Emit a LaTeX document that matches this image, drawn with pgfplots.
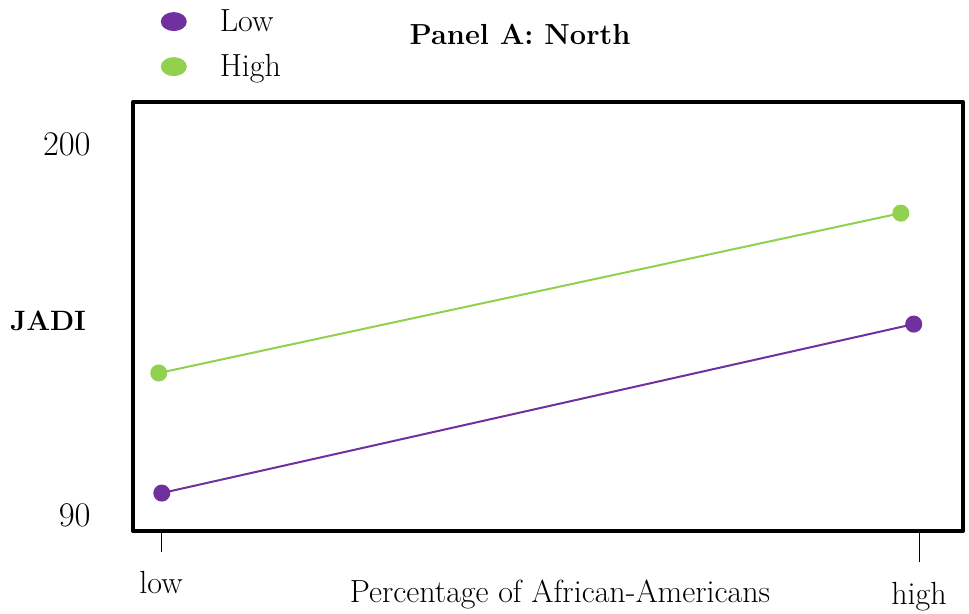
\documentclass[border=0pt]{standalone}
\usepackage{pgfplots}
\pgfplotsset{compat=1.18}
\definecolor{purp}{RGB}{112,48,160}
\definecolor{grn}{RGB}{146,208,80}
\newcommand{\tf}{\fontsize{16}{19}\selectfont}
\begin{document}
\begin{tikzpicture}
\path[use as bounding box] (-66.5pt,-41.5pt) rectangle (418pt,265.5pt);
\begin{axis}[
  scale only axis, width=415pt, height=214.5pt,
  xmin=0.963, xmax=2.058, ymin=85.26, ymax=212.45,
  axis line style={line width=2pt, line join=round},
  tick style={line width=0.5pt, black},
  tick align=outside,
  xtick pos=bottom, ytick pos=left,
  major tick length=10.5pt,
  xtick={1}, xticklabels={low},
  extra x ticks={2}, extra x tick labels={high},
  extra x tick style={major tick length=15.5pt},
  xticklabel style={anchor=base, inner sep=0pt, font=\tf, yshift=-21pt},
  ytick={90,200}, ytick style={draw=none},
  yticklabel style={anchor=east, inner sep=0pt, font=\tf, xshift=-10.5pt},
  xlabel={Percentage of African-Americans},
  xlabel style={at={(axis description cs:0.5145,-0.1678)}, anchor=base, font=\tf, inner sep=0pt},
  ylabel={JADI},
  ylabel style={at={(axis description cs:-0.1024,0.4895)}, rotate=-90, anchor=center, font=\fontsize{14}{17}\selectfont\bfseries, inner sep=0pt},
  title={Panel A: North},
  title style={at={(axis description cs:0.4663,1.1072)}, anchor=base, font=\fontsize{14.5}{17}\selectfont\bfseries, inner sep=0pt},
  legend image code/.code={\fill[#1,draw=none] (0pt,0pt) ellipse (6.5pt and 4.75pt);},
  legend style={at={(axis description cs:0.033,1.222)}, anchor=north west, draw=none, fill=none, inner sep=0pt, row sep=8pt, column sep=15.5pt, font=\tf, nodes={inner sep=1pt}},
  legend cell align=left,
  clip=false,
]
\addplot[purp, line width=1pt, mark=*, mark size=3.75pt] coordinates {(1.001,96.5) (1.993,146.6)};
\addlegendentry{Low}
\addplot[grn, line width=1pt, mark=*, mark size=3.75pt] coordinates {(0.997,132.1) (1.976,179.5)};
\addlegendentry{High}
\end{axis}
\end{tikzpicture}
\end{document}
